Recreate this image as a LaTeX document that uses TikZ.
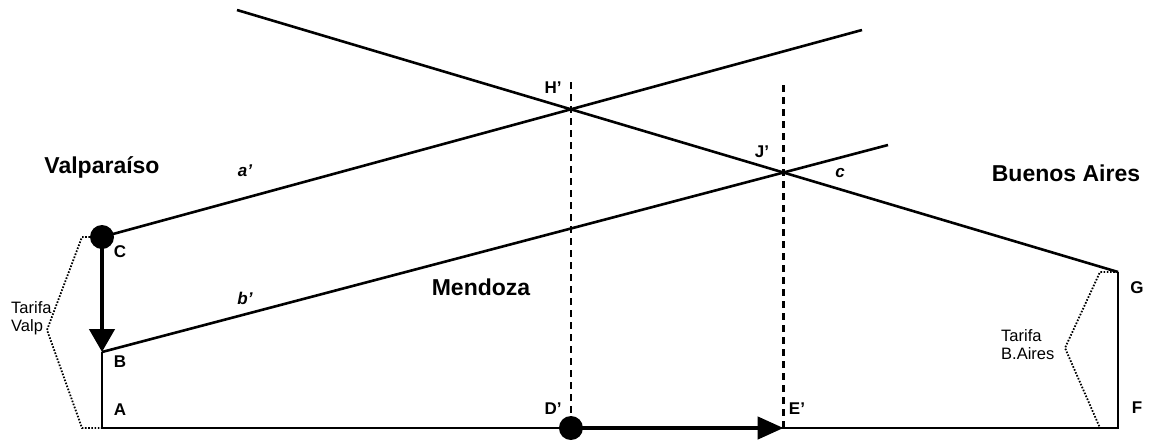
\documentclass[tikz,border=0pt]{standalone}
\usepackage{fontspec}
\setmainfont{Liberation Sans}
\usetikzlibrary{arrows.meta}
\tikzset{
  mainline/.style={line width=2.6pt},
  guide/.style={line width=2.2pt, dash pattern=on 7pt off 5pt},
  brace/.style={line width=1.8pt, dash pattern=on 1.6pt off 1.6pt},
  movearrow/.style={line width=4.5pt, -{Triangle[width=25pt,length=23pt]}},
  dot/.style={circle, fill=black, minimum size=24pt, inner sep=0pt},
  city/.style={font=\fontsize{23}{25}\selectfont\bfseries, inner sep=0pt},
  ptlabel/.style={font=\fontsize{17}{19}\selectfont\bfseries, inner sep=0pt},
  linelabel/.style={font=\fontsize{17}{19}\selectfont\bfseries\itshape, inner sep=0pt},
  tarifa/.style={font=\fontsize{16.5}{18}\selectfont, inner sep=0pt, align=left}
}
\begin{document}
\begin{tikzpicture}[x=1pt,y=-1pt]
\path[use as bounding box] (0,0) rectangle (1154,440);
% key points
\coordinate (A) at (102,428);
\coordinate (B) at (102,352);
\coordinate (C) at (102,237);
\coordinate (F) at (1118,428);
\coordinate (G) at (1118,272);
\coordinate (aend) at (862,30);
\coordinate (bend) at (888,145);
\coordinate (cstart) at (237,10);
\coordinate (H) at (intersection of C--aend and cstart--G);
\coordinate (J) at (intersection of B--bend and cstart--G);
\coordinate (D) at (H |- A);
\coordinate (E) at (J |- A);
\coordinate (Htop) at (H |- 0,82);
\coordinate (Jtop) at (J |- 0,85);
% brace-like dotted lines
\coordinate (lt1) at (90,237);
\coordinate (lt2) at (82,237);
\coordinate (lapex) at (47,330);
\coordinate (lb) at (82,428);
\coordinate (rt) at (1100,272);
\coordinate (rapex) at (1065,348);
\coordinate (rb) at (1100,428);
\draw[brace] (lt1) -- (lt2) -- (lapex) -- (lb) -- (A);
\draw[brace] (G) -- (rt) -- (rapex) -- (rb);
% dashed verticals
\draw[guide] (Htop) -- (D);
\draw[guide] (Jtop) -- (E);
% main lines
\draw[mainline] (C) -- (aend);
\draw[mainline] (B) -- (bend);
\draw[mainline] (cstart) -- (G);
\draw[mainline] (B) -- (A) -- (F) -- (G);
% movement arrows
\node[dot] (Cdot) at (C) {};
\node[dot] (Ddot) at (D) {};
\draw[movearrow] (Cdot.center) -- (B);
\draw[movearrow, -{Triangle[width=22pt,length=26pt]}] (Ddot.center) -- (E);
% labels
\node[city] (valp) at (102,167) {Valparaíso};
\node[city] (ba) at (1066,173) {Buenos Aires};
\node[city] (mdz) at (481,287) {Mendoza};
\node[ptlabel] (lC) at (120,252) {C};
\node[ptlabel] (lB) at (120,362) {B};
\node[ptlabel] (lA) at (120,410) {A};
\node[ptlabel] (lH) at (553,88) {H’};
\node[ptlabel] (lJ) at (762,152) {J’};
\node[ptlabel] (lD) at (553,409) {D’};
\node[ptlabel] (lE) at (797,409) {E’};
\node[ptlabel] (lF) at (1137,408) {F};
\node[ptlabel] (lG) at (1137,288) {G};
\node[linelabel] (la) at (245,171) {a’};
\node[linelabel] (lb2) at (245,298) {b’};
\node[linelabel] (lc) at (840,173) {c};
\node[tarifa, anchor=west] (tv) at (11,318) {Tarifa\\Valp};
\node[tarifa, anchor=west] (tb) at (1001,345) {Tarifa\\B.Aires};
\end{tikzpicture}
\end{document}
